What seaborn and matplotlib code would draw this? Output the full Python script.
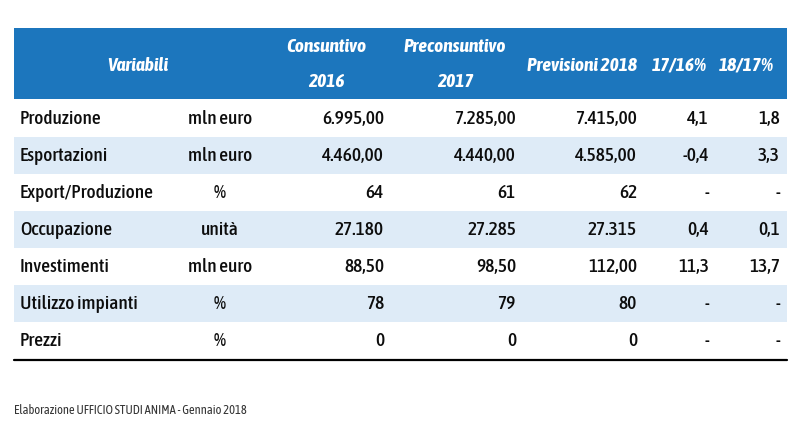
import matplotlib
matplotlib.use("Agg")
import matplotlib.pyplot as plt
import seaborn as sns
import numpy as np
from matplotlib import font_manager
from matplotlib.colors import ListedColormap

# table content
variabili = ["Produzione", "Esportazioni", "Export/Produzione", "Occupazione",
             "Investimenti", "Utilizzo impianti", "Prezzi"]
unita = ["mln euro", "mln euro", "%", "unità", "mln euro", "%", "%"]
consuntivo_2016 = ["6.995,00", "4.460,00", "64", "27.180", "88,50", "78", "0"]
preconsuntivo_2017 = ["7.285,00", "4.440,00", "61", "27.285", "98,50", "79", "0"]
previsioni_2018 = ["7.415,00", "4.585,00", "62", "27.315", "112,00", "80", "0"]
var_17_16 = ["4,1", "-0,4", "-", "0,4", "11,3", "-", "-"]
var_18_17 = ["1,8", "3,3", "-", "0,1", "13,7", "-", "-"]
headers = ["Variabili", "Consuntivo\n2016", "Preconsuntivo\n2017",
           "Previsioni 2018", "17/16%", "18/17%"]
footnote = "Elaborazione UFFICIO STUDI ANIMA - Gennaio 2018"

HEADER_BLUE = "#1c76bd"
STRIPE = "#deebf7"
W, H = 800, 436

sns.set_theme(style="white")

# look for a narrow face (the original uses a condensed font), prefer one with a bold cut
fonts = font_manager.fontManager.ttflist
def is_narrow(f):
    return "Narrow" in f.name or "Condensed" in f.name
def is_bold(f):
    return f.weight in (600, 700, 800, "bold", "semibold", "demibold")
narrow_bold = sorted({f.name for f in fonts if is_narrow(f) and is_bold(f)})
narrow = sorted({f.name for f in fonts if is_narrow(f)})
family, stretch = "DejaVu Sans", "normal"
if narrow_bold:
    family = narrow_bold[0]
elif narrow:
    family = narrow[0]
elif any(f.name == "DejaVu Sans" and f.stretch == "condensed" for f in fonts):
    stretch = "condensed"
plt.rcParams["font.family"] = [family, "DejaVu Sans"]
plt.rcParams["font.stretch"] = stretch

fig = plt.figure(figsize=(8, 4.36), dpi=100)
fig.patch.set_facecolor("white")
renderer = fig.canvas.get_renderer()


def px_axes(x0, y0, x1, y1):
    return fig.add_axes([x0 / W, 1 - y1 / H, (x1 - x0) / W, (y1 - y0) / H])


def fit_size(sample, target_px, cap, **kw):
    t = fig.text(0, 0, sample, fontsize=10, **kw)
    w = t.get_window_extent(renderer).width
    t.remove()
    return min(cap, 10 * target_px / w)


# header band
ax_head = px_axes(14, 28, 787, 99)
sns.heatmap(np.zeros((1, 1)), ax=ax_head, cmap=ListedColormap([HEADER_BLUE]),
            cbar=False, xticklabels=False, yticklabels=False)

# striped body rows
stripes = np.array([[i % 2] for i in range(len(variabili))])
ax_body = px_axes(14, 100, 787, 359)
sns.heatmap(stripes, ax=ax_body, cmap=ListedColormap(["white", STRIPE]),
            cbar=False, xticklabels=False, yticklabels=False, vmin=0, vmax=1)

# text layer in pixel coordinates
ax = fig.add_axes([0, 0, 1, 1])
ax.set_xlim(0, W)
ax.set_ylim(H, 0)
ax.axis("off")
ax.patch.set_alpha(0)

head_style = dict(color="white", fontweight="bold", style="italic",
                  ha="center", va="center")
head_fs = fit_size("Previsioni 2018", 110, 15, fontweight="bold", style="italic")
body_fs = fit_size("Export/Produzione", 133, 15, fontweight="medium")
body_style = dict(fontsize=body_fs, fontweight="medium", va="center", color="#0d0d0d")

head_x = [138, 326, 455, 582, 679, 746]
for hx, label in zip(head_x, headers):
    lines = label.split("\n")
    if len(lines) == 2:
        ax.text(hx, 47, lines[0], fontsize=head_fs, **head_style)
        ax.text(hx, 82, lines[1], fontsize=head_fs, **head_style)
    else:
        ax.text(hx, 66, label, fontsize=head_fs, **head_style)

row_h = 37
value_cols = [consuntivo_2016, preconsuntivo_2017, previsioni_2018, var_17_16, var_18_17]
value_right = [384, 516, 637, 709, 780]
for i, name in enumerate(variabili):
    y = 100 + row_h * i + row_h / 2
    ax.text(20, y, name, ha="left", **body_style)
    ax.text(220, y, unita[i], ha="center", **body_style)
    for col, xr in zip(value_cols, value_right):
        ax.text(xr, y, col[i], ha="right", **body_style)

ax.plot([14, 787], [360, 360], color="black", lw=1.6)
foot_fs = fit_size(footnote, 258, 9)
ax.text(14, 410, footnote, fontsize=foot_fs, ha="left", va="center", color="#333333")

fig.savefig("out.png", dpi=100)
